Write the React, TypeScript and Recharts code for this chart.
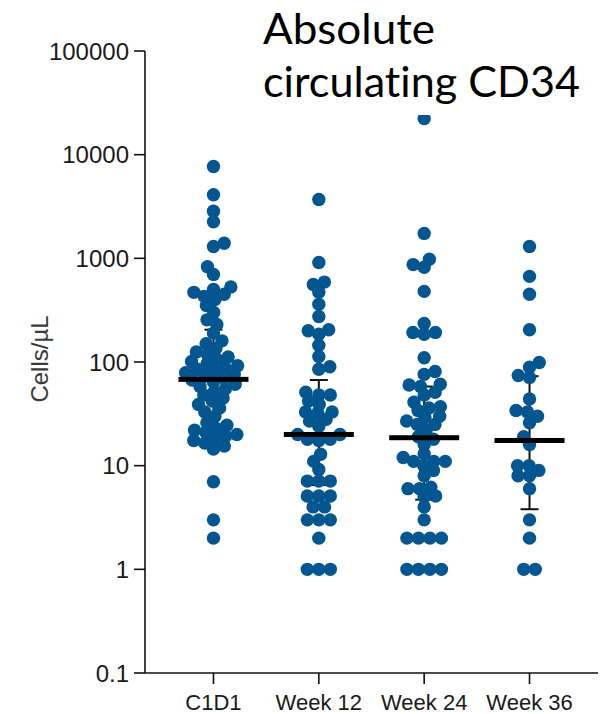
import React from 'react';
import { ScatterChart, Scatter, XAxis, YAxis, ErrorBar } from 'recharts';

const categories = ['C1D1', 'Week 12', 'Week 24', 'Week 36'];

const c1d1Values = [
  7700, 4100, 2850, 2250, 1400, 1300, 830, 700,
  530, 500, 470, 450, 430, 400, 350, 300,
  255, 230,
  190, 160, 150, 135, 125, 118, 112,
  106, 101, 96, 92, 88, 85, 82, 79, 76, 73, 70, 67, 64, 61, 58, 55, 52,
  48, 45, 42, 39, 36, 33, 30,
  26, 24.5, 23, 22, 21, 20, 19.2, 18.4, 17.5, 16.5, 15.5, 14.5,
  7, 3, 2,
];
const week12Values = [
  3700, 913, 590, 560, 470, 360, 275, 205, 200, 185, 145, 113, 90, 85,
  51, 48, 48, 42, 39, 33, 33, 32, 28, 27, 24, 20, 20, 18, 17.5, 18,
  12.9, 11, 9.2, 7.1, 7.1, 7.1, 5.1, 5.1, 5.1, 4, 4, 3, 3, 3, 2, 1, 1, 1,
];
const week24Values = [
  22300, 1740, 980, 870, 820, 480, 235, 193, 193, 185, 110, 81, 76, 61, 60,
  58, 51, 48, 41, 37, 36, 34, 30, 29, 27, 25, 25, 22, 19, 18, 16, 13, 12,
  11, 11, 11, 10, 9, 8, 6.2, 6, 6, 5.1, 5, 4, 3, 2, 2, 2, 2, 1, 1, 1, 1,
];
const week36Values = [
  1300, 670, 450, 205, 99, 89, 74, 71, 44, 34, 33, 30, 26, 19, 16,
  10, 10, 9, 8, 8, 6, 3, 2, 1, 1,
];
const medianValues = [68, 20, 18.6, 17.5];
const q1Values = [22, 6.5, 4.7, 3.8];
const q3Values = [205, 67, 58, 73];
const yTicks = [0.1, 1, 10, 100, 1000, 10000, 100000];

const W = 611;
const H = 714;
const MARGIN = { top: 51, right: 13, bottom: 0, left: 0 };
const Y_AXIS_W = 145;
const X_AXIS_H = 41;
const X_DOMAIN: [number, number] = [0.35, 4.65];
const PLOT_W = W - MARGIN.left - MARGIN.right - Y_AXIS_W;
const PLOT_H = H - MARGIN.top - MARGIN.bottom - X_AXIS_H;
const PX_PER_UNIT = PLOT_W / (X_DOMAIN[1] - X_DOMAIN[0]);
const PX_PER_DECADE = PLOT_H / 6;
const SX = 11.5;
const SY = 9;
const DOT_R = 6.7;
const DOT_COLOR = '#03568f';
const FONT = '"Liberation Sans", Arial, Helvetica, sans-serif';

// beeswarm layout: horizontal offsets (in px) so that dots do not pile up
function swarmOffsets(values: number[]): number[] {
  const order = values.map((_, i) => i).sort((a, b) => values[a] - values[b]);
  const yOf = (v: number) => -Math.log10(v) * PX_PER_DECADE;
  const out: number[] = new Array(values.length).fill(0);
  const placed: { i: number; x: number; y: number }[] = [];
  let flip = 1;
  for (const i of order) {
    const y = yOf(values[i]);
    const iv: [number, number][] = [];
    for (const p of placed) {
      const dy = Math.abs(p.y - y);
      if (dy < SY) {
        const w = SX * Math.sqrt(1 - (dy / SY) * (dy / SY));
        iv.push([p.x - w, p.x + w]);
      }
    }
    const cands = [0];
    iv.forEach(([a, b]) => cands.push(a, b));
    const ok = (x: number) => iv.every(([a, b]) => x <= a + 1e-6 || x >= b - 1e-6);
    const valid = cands.filter(ok).sort((a, b) => {
      const d = Math.abs(a) - Math.abs(b);
      if (Math.abs(d) > 1e-6) return d;
      return flip > 0 ? b - a : a - b;
    });
    const x = valid[0];
    if (Math.abs(x) > 1e-6) flip = -flip;
    out[i] = x;
    placed.push({ i, x, y });
  }
  // center rows of identical values when it is free of collisions
  const groups = new Map<number, number[]>();
  values.forEach((v, i) => {
    const g = groups.get(v) || [];
    g.push(i);
    groups.set(v, g);
  });
  groups.forEach((ids) => {
    if (ids.length < 2) return;
    const mean = ids.reduce((s, i) => s + out[i], 0) / ids.length;
    const shifted = ids.map((i) => out[i] - mean);
    const y = yOf(values[ids[0]]);
    const clash = placed.some((p) => {
      if (ids.includes(p.i)) return false;
      return shifted.some((sx) => {
        const dx = (sx - p.x) / SX;
        const dy = (y - p.y) / SY;
        return dx * dx + dy * dy < 0.9;
      });
    });
    if (!clash) ids.forEach((i, k) => (out[i] = shifted[k]));
  });
  return out;
}

const groupValues = [c1d1Values, week12Values, week24Values, week36Values];
const dotData = groupValues.flatMap((vals, g) => {
  const offs = swarmOffsets(vals);
  return vals.map((v, k) => ({ x: g + 1 + offs[k] / PX_PER_UNIT, y: v }));
});
const summaryData = medianValues.map((m, g) => ({
  x: g + 1,
  y: m,
  err: [m - q1Values[g], q3Values[g] - m],
}));

const Dot = (p: any) => <circle cx={p.cx} cy={p.cy} r={DOT_R} fill={DOT_COLOR} />;
const MedianBar = (p: any) => (
  <rect x={p.cx - 35} y={p.cy - 2.5} width={70} height={5} fill="#000" />
);

const fmt = (v: number) => (v < 1 ? String(v) : String(Math.round(v)));

export default function App() {
  return (
    <div style={{ position: 'fixed', left: 0, top: 0, width: W, height: H, background: '#fff' }}>
      <ScatterChart width={W} height={H} margin={MARGIN}>
        <XAxis
          type="number"
          dataKey="x"
          domain={X_DOMAIN}
          ticks={[1, 2, 3, 4]}
          allowDataOverflow
          tickFormatter={(v: number) => categories[v - 1] ?? ''}
          height={X_AXIS_H}
          tickSize={11}
          tickMargin={10}
          axisLine={{ stroke: '#111', strokeWidth: 1.6 }}
          tickLine={{ stroke: '#111', strokeWidth: 1.6 }}
          tick={{ fill: '#1a1a1a', fontSize: 22, fontFamily: FONT }}
        />
        <YAxis
          type="number"
          dataKey="y"
          scale="log"
          domain={[0.1, 100000]}
          ticks={yTicks}
          allowDataOverflow
          width={Y_AXIS_W}
          tickFormatter={fmt}
          tickSize={11}
          tickMargin={5}
          axisLine={{ stroke: '#111', strokeWidth: 1.6 }}
          tickLine={{ stroke: '#111', strokeWidth: 1.6 }}
          tick={{ fill: '#1a1a1a', fontSize: 24, fontFamily: FONT }}
        />
        <Scatter data={dotData} shape={Dot} isAnimationActive={false} />
        <Scatter data={summaryData} shape={MedianBar} isAnimationActive={false}>
          <ErrorBar dataKey="err" direction="y" width={9} stroke="#111" strokeWidth={2} />
        </Scatter>
      </ScatterChart>
      <div
        style={{
          position: 'absolute',
          left: 40,
          top: 359,
          transform: 'translate(-50%, -50%) rotate(-90deg)',
          fontFamily: FONT,
          fontSize: 24,
          color: '#3a3a3a',
          whiteSpace: 'nowrap',
          lineHeight: 1,
        }}
      >
        Cells/µL
      </div>
      <svg
        width={W}
        height={120}
        style={{ position: 'absolute', left: 0, top: 0, pointerEvents: 'none' }}
      >
        <rect x={255} y={0} width={356} height={115} fill="#fff" />
        <text x={263} y={44} fontFamily="Lato, 'Open Sans', sans-serif" fontSize={42} fill="#000" textLength={172} lengthAdjust="spacingAndGlyphs" style={{ fontVariantLigatures: 'none' }}>
          Absolute
        </text>
        <text x={263} y={97} fontFamily="Lato, 'Open Sans', sans-serif" fontSize={42} fill="#000" textLength={317} lengthAdjust="spacingAndGlyphs" style={{ fontVariantLigatures: 'none' }}>
          circulating CD34
        </text>
      </svg>
    </div>
  );
}
